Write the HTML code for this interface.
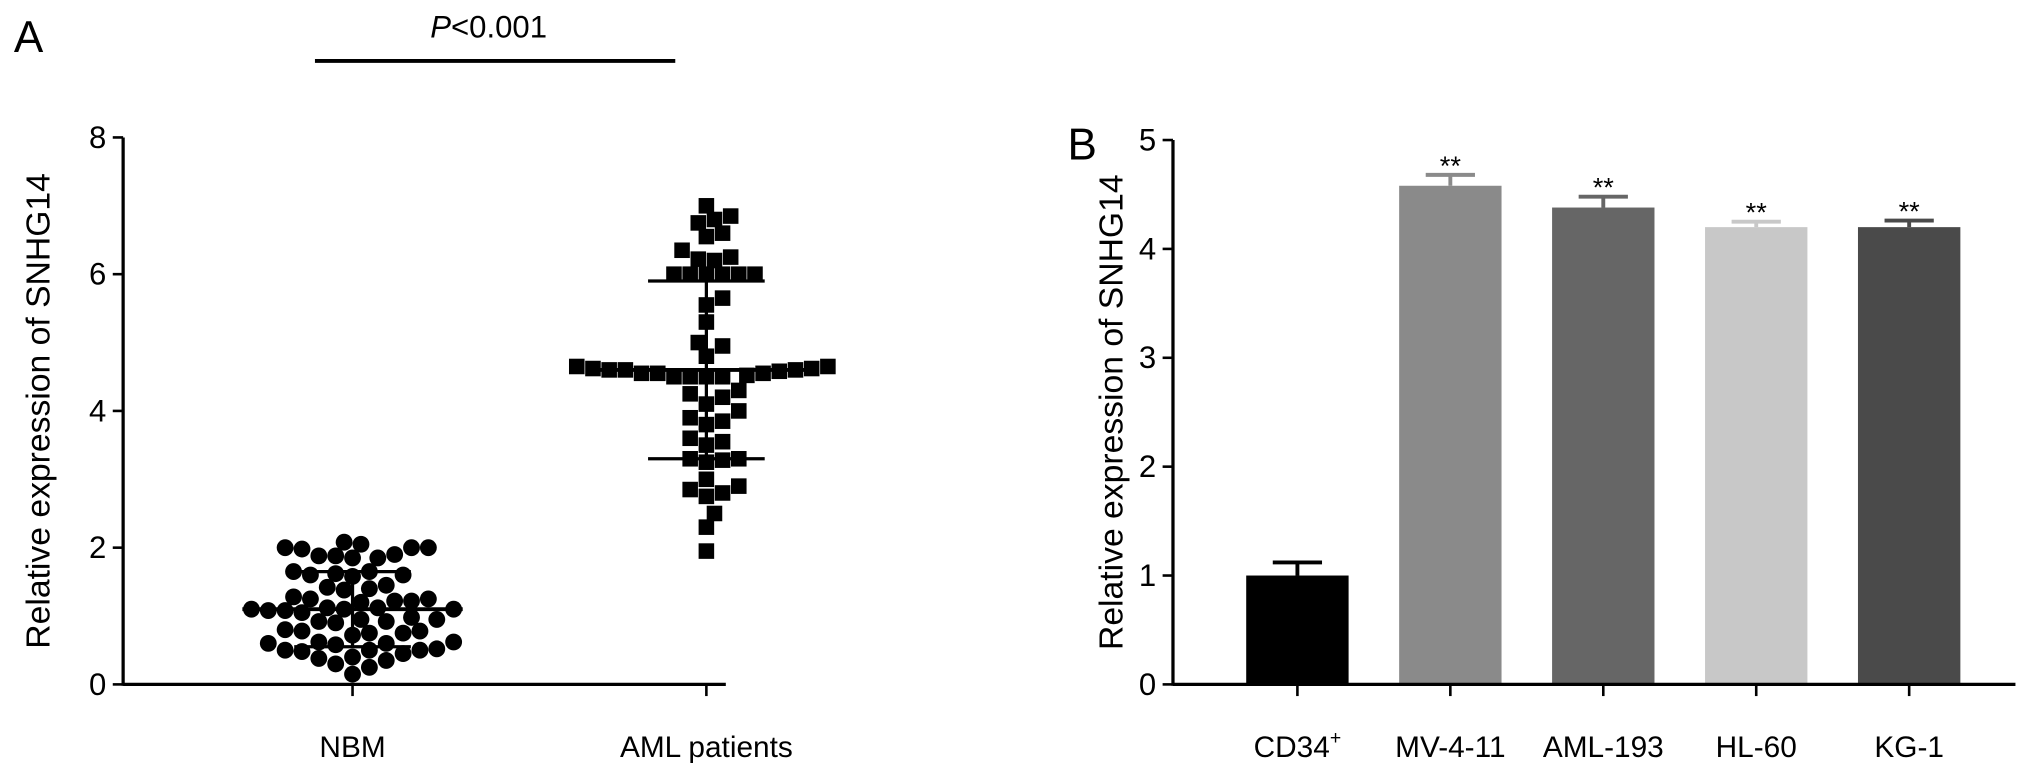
<!DOCTYPE html>
<html><head><meta charset="utf-8"><style>
html,body{margin:0;padding:0;background:#fff;}
svg{display:block;font-family:"Liberation Sans",Arial,sans-serif;}
</style></head><body>
<svg id="fig" width="2031" height="770" viewBox="0 0 1567 594" xmlns="http://www.w3.org/2000/svg">
<g id="pa"></g>
<g id="pb"></g>
</svg>
<script>
const nbmValues=[2.05,2.0,2.0,2.08,2.0,1.98,1.88,1.85,1.85,1.88,1.9,1.6,1.62,1.65,1.65,1.6,1.58,1.4,1.42,1.38,1.45,1.25,1.22,1.2,1.28,1.25,1.22,1.1,1.08,1.12,1.05,1.1,1.1,1.08,1.12,0.95,0.92,0.9,0.98,0.95,0.92,0.78,0.75,0.72,0.8,0.75,0.78,0.62,0.6,0.58,0.6,0.62,0.5,0.48,0.52,0.5,0.45,0.5,0.38,0.35,0.4,0.3,0.15,0.25];
const amlValues=[7.0,6.85,6.8,6.75,6.6,6.55,6.35,6.25,6.22,6.2,6.0,6.0,6.0,6.0,6.0,6.0,5.65,5.55,5.3,5.0,4.95,4.8,4.65,4.62,4.6,4.6,4.58,4.55,4.55,4.52,4.5,4.5,4.5,4.5,4.55,4.6,4.62,4.65,4.3,4.25,4.2,4.1,4.0,3.9,3.85,3.8,3.6,3.55,3.5,3.3,3.28,3.25,3.3,3.0,2.9,2.85,2.8,2.75,2.5,2.3,1.95];
const groupLabels=["NBM","AML patients"];
const groupMean=[1.1,4.6];
const groupSDLow=[0.55,3.3];
const groupSDHigh=[1.65,5.9];
const aTicks=[0,2,4,6,8];
const barCats=["CD34","MV-4-11","AML-193","HL-60","KG-1"];
const barValues=[1.0,4.58,4.38,4.2,4.2];
const barErrors=[0.12,0.1,0.1,0.05,0.06];
const barSig=["","**","**","**","**"];
const bTicks=[0,1,2,3,4,5];
const barColors=["#000","#8a8a8a","#666","#c8c8c8","#4a4a4a"];
const NS="http://www.w3.org/2000/svg";
function mk(p,t,a,txt){const e=document.createElementNS(NS,t);for(const k in a)e.setAttribute(k,a[k]);if(txt!==undefined)e.textContent=txt;p.appendChild(e);return e;}
const pa=document.getElementById('pa');
const ax0=95,ay0=528,ay1=106,aMax=8;
const yA=v=>ay0-(v/aMax)*(ay0-ay1);
const xA=[272,545];
let e;
e=mk(pa,'text',{x:22,y:40,'font-size':34,'text-anchor':'middle'},'A');

e=mk(pa,'text',{x:377,y:29,'font-size':24,'text-anchor':'middle'});

mk(e,'tspan',{'font-style':'italic'},'P');mk(e,'tspan',{},'<0.001');
e=mk(pa,'line',{x1:243,x2:521,y1:47,y2:47,stroke:'#000','stroke-width':3});

e=mk(pa,'line',{x1:ax0,x2:ax0,y1:ay1,y2:ay0+1,stroke:'#000','stroke-width':2.5});

e=mk(pa,'line',{x1:ax0,x2:560,y1:ay0,y2:ay0,stroke:'#000','stroke-width':2.5});

aTicks.forEach(t=>{
 e=mk(pa,'line',{x1:ax0-8,x2:ax0,y1:yA(t),y2:yA(t),stroke:'#000','stroke-width':2});
 
 e=mk(pa,'text',{x:ax0-13,y:yA(t)+8,'font-size':24,'text-anchor':'end'},String(t));
 
});
e=mk(pa,'text',{x:0,y:0,'font-size':26,'text-anchor':'middle',transform:`translate(38,${(ay0+ay1)/2}) rotate(-90)`},'Relative expression of SNHG14');

groupLabels.forEach((g,i)=>{
 e=mk(pa,'line',{x1:xA[i],x2:xA[i],y1:ay0,y2:ay0+9,stroke:'#000','stroke-width':2});
 
 e=mk(pa,'text',{x:xA[i],y:584,'font-size':23,'text-anchor':'middle'},g);
 
});
function swarm(vals,cx,d){
 const placed=[];const sorted=vals.slice().sort((a,b)=>a-b);
 sorted.forEach(v=>{const y=yA(v);let k=0;
  while(true){const offs=k===0?[0]:[k*d*0.5,-k*d*0.5];let ok=null;
   for(const o of offs){const x=cx+o;if(placed.every(p=>Math.hypot(p.x-x,p.y-y)>=d*0.95)){ok=x;break;}}
   if(ok!==null){placed.push({x:ok,y:y});break;}k++;}
 });return placed;}
swarm(nbmValues,xA[0],13).forEach(p=>{
 e=mk(pa,'circle',{cx:p.x,cy:p.y,r:6.5,fill:'#000'});
 
});
swarm(amlValues,xA[1],12.5).forEach(p=>{
 e=mk(pa,'rect',{x:p.x-6,y:p.y-6,width:12,height:12,fill:'#000'});
 
});
groupLabels.forEach((g,i)=>{
 e=mk(pa,'line',{x1:xA[i],x2:xA[i],y1:yA(groupSDLow[i]),y2:yA(groupSDHigh[i]),stroke:'#000','stroke-width':2.5});
 
 [groupSDLow[i],groupSDHigh[i]].forEach(v=>{
  e=mk(pa,'line',{x1:xA[i]-45,x2:xA[i]+45,y1:yA(v),y2:yA(v),stroke:'#000','stroke-width':2.5});
  
 });
 e=mk(pa,'line',{x1:xA[i]-85,x2:xA[i]+85,y1:yA(groupMean[i]),y2:yA(groupMean[i]),stroke:'#000','stroke-width':3});
 
});
const pb=document.getElementById('pb');
const bx0=905,by0=528,by1=108,bMax=5;
const yB=v=>by0-(v/bMax)*(by0-by1);
const xB=i=>1001+i*118;
const bw=79;
e=mk(pb,'text',{x:835,y:123,'font-size':34,'text-anchor':'middle'},'B');

barCats.forEach((c,i)=>{
 e=mk(pb,'rect',{x:xB(i)-bw/2,y:yB(barValues[i]),width:bw,height:by0-yB(barValues[i]),fill:barColors[i]});
 
 const top=yB(barValues[i]+barErrors[i]);
 e=mk(pb,'line',{x1:xB(i),x2:xB(i),y1:yB(barValues[i]),y2:top,stroke:barColors[i],'stroke-width':3});
 
 e=mk(pb,'line',{x1:xB(i)-19,x2:xB(i)+19,y1:top,y2:top,stroke:barColors[i],'stroke-width':3});
 
 if(barSig[i]){e=mk(pb,'text',{x:xB(i),y:top,'font-size':21,'text-anchor':'middle'},barSig[i]);
  }
 e=mk(pb,'line',{x1:xB(i),x2:xB(i),y1:by0,y2:by0+9,stroke:'#000','stroke-width':2});
 
 e=mk(pb,'text',{x:xB(i),y:584,'font-size':23,'text-anchor':'middle'},c);
 
 if(i===0){mk(e,'tspan',{'font-size':15,dy:-10},'+');}
});
e=mk(pb,'line',{x1:bx0,x2:bx0,y1:by1,y2:by0+1,stroke:'#000','stroke-width':2.5});

e=mk(pb,'line',{x1:bx0,x2:1555,y1:by0,y2:by0,stroke:'#000','stroke-width':2.5});

bTicks.forEach(t=>{
 e=mk(pb,'line',{x1:bx0-8,x2:bx0,y1:yB(t),y2:yB(t),stroke:'#000','stroke-width':2});
 
 e=mk(pb,'text',{x:bx0-13,y:yB(t)+8,'font-size':24,'text-anchor':'end'},String(t));
 
});
e=mk(pb,'text',{x:0,y:0,'font-size':26,'text-anchor':'middle',transform:`translate(866,${(by0+by1)/2}) rotate(-90)`},'Relative expression of SNHG14');

</script>
</body></html>
